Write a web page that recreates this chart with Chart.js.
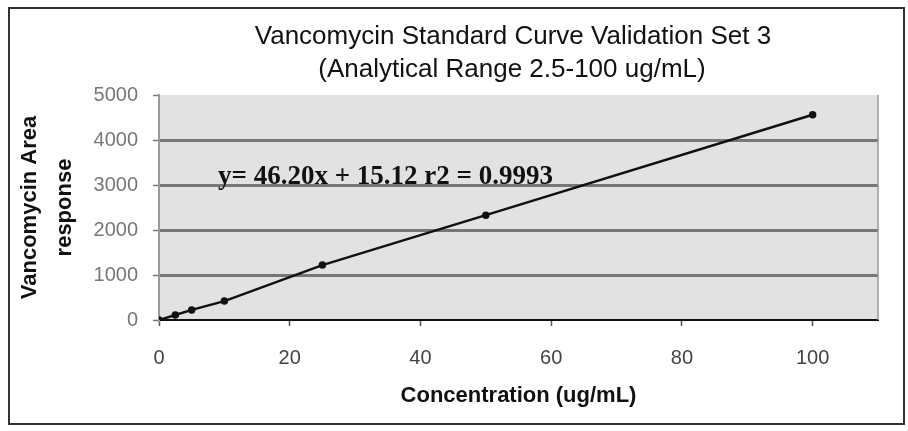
<!DOCTYPE html>
<html>
<head>
<meta charset="utf-8">
<script src="https://cdn.jsdelivr.net/npm/chart.js@4.4.0/dist/chart.umd.min.js"></script>
<style>
  html, body { margin: 0; padding: 0; background: #fff; }
  #wrap { width: 908px; height: 431px; position: relative; }
</style>
</head>
<body>
<div id="wrap"><canvas id="curve"></canvas></div>
<script>
// standards
const concentrations = [0, 2.5, 5, 10, 25, 50, 100];
const areaResponse = [0, 110, 225, 420, 1220, 2330, 4560];
const xTicks = [0, 20, 40, 60, 80, 100];
const yTicks = [0, 1000, 2000, 3000, 4000, 5000];
const titleLines = ['Vancomycin Standard Curve Validation Set 3', '(Analytical Range 2.5-100 ug/mL)'];
const fitLabel = 'y= 46.20x + 15.12 r2 = 0.9993';

const points = concentrations.map((c, i) => ({ x: c, y: areaResponse[i] }));

const framePlugin = {
    id: 'frame',
    beforeDraw(chart) {
        const { ctx, chartArea: a } = chart;
        ctx.save();
        ctx.fillStyle = '#fff';
        ctx.fillRect(0, 0, chart.width, chart.height);
        ctx.fillStyle = '#e2e2e2';
        ctx.fillRect(a.left, a.top, a.right - a.left, a.bottom - a.top);
        ctx.restore();
    },
    afterDraw(chart) {
        const { ctx, chartArea: a } = chart;
        ctx.save();
        // right edge of the plot
        ctx.strokeStyle = '#999';
        ctx.lineWidth = 1.5;
        ctx.beginPath();
        ctx.moveTo(a.right, a.top);
        ctx.lineTo(a.right, a.bottom);
        ctx.stroke();

        // title
        ctx.fillStyle = '#111';
        ctx.textAlign = 'center';
        ctx.textBaseline = 'middle';
        ctx.font = '26px "Liberation Sans", Arial, sans-serif';
        ctx.fillText(titleLines[0], 513, 37);
        ctx.fillText(titleLines[1], 512, 70);

        // trendline equation
        ctx.textAlign = 'left';
        ctx.font = 'bold 27px "Liberation Serif", "Times New Roman", serif';
        ctx.fillText(fitLabel, a.left + 59, 177);

        // outer frame
        ctx.strokeStyle = '#333';
        ctx.lineWidth = 2;
        ctx.strokeRect(9, 8, 895, 416);
        ctx.restore();
    }
};

new Chart(document.getElementById('curve'), {
    type: 'line',
    data: {
        datasets: [{
            data: points,
            borderColor: '#111',
            backgroundColor: '#111',
            borderWidth: 2.5,
            pointRadius: 2.5,
            pointBackgroundColor: '#111',
            tension: 0,
        }]
    },
    options: {
        responsive: true,
        maintainAspectRatio: false,
        animation: false,
        layout: { padding: { left: 0, right: 30, top: 95, bottom: 0 } },
        plugins: {
            legend: { display: false },
            tooltip: { enabled: false },
        },
        scales: {
            x: {
                type: 'linear',
                min: 0,
                max: 110,
                afterBuildTicks: s => { s.ticks = xTicks.map(v => ({ value: v })); },
                afterFit: s => { s.height = 111; },
                grid: { drawOnChartArea: false, tickLength: 6, tickColor: '#555', tickWidth: 1.5 },
                border: { color: '#111', width: 2 },
                ticks: {
                    padding: 20,
                    color: '#444',
                    callback: v => String(v),
                    font: { family: '"Liberation Sans", Arial, sans-serif', size: 20 },
                },
                title: {
                    display: true,
                    text: 'Concentration (ug/mL)',
                    color: '#111',
                    font: { family: '"Liberation Sans", Arial, sans-serif', size: 22, weight: 'bold' },
                    padding: { top: 0, bottom: 22 },
                },
            },
            y: {
                min: 0,
                max: 5000,
                afterBuildTicks: s => { s.ticks = yTicks.map(v => ({ value: v })); },
                afterFit: s => { s.width = 159; },
                grid: {
                    color: c => (c.tick && c.tick.value > 0 && c.tick.value < 5000) ? '#777' : 'rgba(0,0,0,0)',
                    lineWidth: 3,
                    tickColor: '#777',
                    tickWidth: 1.5,
                    tickLength: 6,
                },
                border: { color: '#999', width: 2 },
                ticks: {
                    padding: 15,
                    color: '#777',
                    callback: v => String(v),
                    font: { family: '"Liberation Sans", Arial, sans-serif', size: 20 },
                },
                title: {
                    display: true,
                    text: ['Vancomycin Area', 'response'],
                    color: '#111',
                    font: { family: '"Liberation Sans", Arial, sans-serif', size: 22, weight: 'bold', lineHeight: 1.6 },
                    padding: { top: 12, bottom: 0 },
                },
            },
        },
    },
    plugins: [framePlugin],
});
</script>
</body>
</html>
